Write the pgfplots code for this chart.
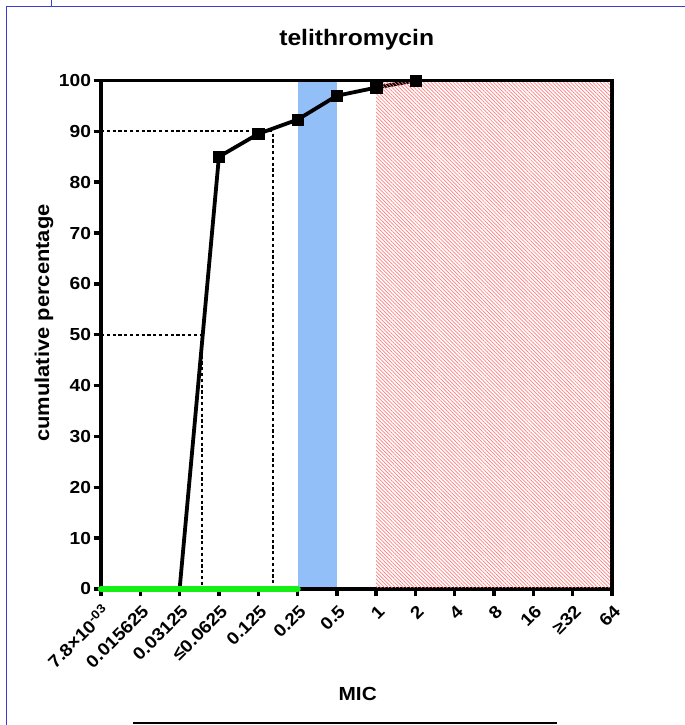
\documentclass[border=0pt]{standalone}
\usepackage{fontspec}
\setmainfont{Liberation Sans}[FakeStretch=1.1]
\usepackage{pgfplots}
\pgfplotsset{compat=1.18}
\usetikzlibrary{patterns.meta}
\definecolor{bandblue}{RGB}{147,191,248}
\definecolor{mygreen}{RGB}{20,240,20}
\definecolor{hatchred}{RGB}{255,125,125}
\definecolor{frameblue}{RGB}{60,60,210}
\begin{document}
\begin{tikzpicture}[x=1bp,y=1bp]
\useasboundingbox (0,0) rectangle (685,725);
\draw[frameblue, line width=1.5bp] (6.5,0) -- (6.5,718.5) -- (685,718.5);
\draw[frameblue, line width=1.5bp] (51.5,718.5) -- (51.5,725);
\draw[black, line width=2bp] (133,2) -- (557,2);
\node[font=\bfseries\fontsize{22.5}{25}\selectfont] at (356.7,685) {telithromycin};
\node[font=\bfseries\fontsize{20}{22}\selectfont, rotate=90] at (44,402) {cumulative percentage};
\node[font=\bfseries\fontsize{19}{22}\selectfont] at (357.7,31) {MIC};
\begin{axis}[
  at={(101bp,136bp)}, anchor=south west,
  scale only axis, width=511bp, height=508.5bp,
  xmin=0, xmax=13, ymin=0, ymax=100,
  clip=false,
  axis line style={line width=3.6bp, black},
  tick style={line width=3.4bp, black},
  major tick length=7.5bp,
  tick align=outside,
  xtick pos=bottom, ytick pos=left,
  xtick={0,1,...,13},
  xticklabels={7.8×10\textsuperscript{-03},0.015625,0.03125,≤0.0625,0.125,0.25,0.5,1,2,4,8,16,≥32,64},
  ytick={0,10,...,100},
  /pgf/number format/assume math mode=true,
  yticklabel style={font=\bfseries\fontsize{17.5}{19}\selectfont, xshift=1bp},
  xticklabel style={xshift=6bp, yshift=-11bp, rotate=45, anchor=east, inner sep=1bp, font=\bfseries\fontsize{17.5}{19}\selectfont},
]
\addplot[draw=none, fill=bandblue] coordinates {(5,0.35) (6,0.35) (6,99.65) (5,99.65)} -- cycle;
\addplot[black, line width=1.7bp, dash pattern=on 3.2bp off 2.6bp] coordinates {(0,50) (2.57,50) (2.57,0)};
\addplot[black, line width=1.7bp, dash pattern=on 3.2bp off 2.6bp] coordinates {(0,90) (4.37,90) (4.37,0)};
\addplot[black, line width=3.8bp, mark=square*, mark size=5.6bp, mark indices={2,3,4,5,6,7}, mark options={solid, line width=0.5bp}] coordinates {(2,0) (3,85) (4,89.5) (5,92.3) (6,97) (7,98.6) (8,100)};
\addplot[mygreen, line width=6.5bp, line cap=round] coordinates {(0,0) (5,0)};
\addplot[draw=none, pattern={Lines[angle=-45,distance=2.6bp,line width=0.7bp]}, pattern color=hatchred] coordinates {(7,0.35) (12.95,0.35) (12.95,99.65) (7,99.65)} -- cycle;
\end{axis}
\end{tikzpicture}
\end{document}
